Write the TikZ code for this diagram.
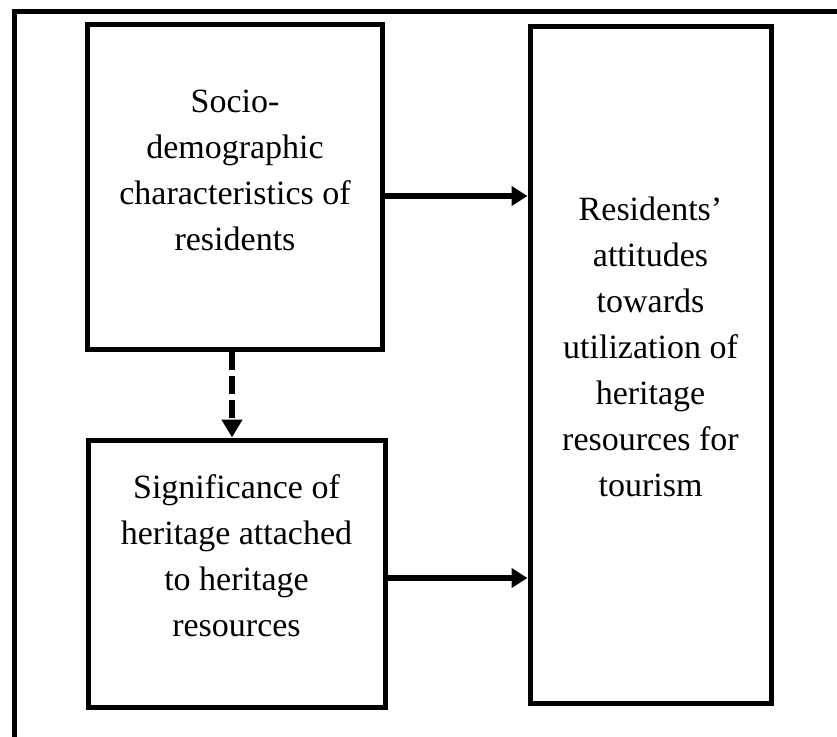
\documentclass[tikz,border=0pt]{standalone}
\usepackage{fontspec}
\setmainfont{Liberation Serif}
\usetikzlibrary{arrows.meta}
\begin{document}
\begin{tikzpicture}[x=1pt,y=-1pt,
  box/.style={draw=black,line width=5pt,fill=none,inner sep=0pt,rectangle},
  txt/.style={align=center,inner sep=0pt,font=\fontsize{34}{46}\selectfont},
  arr/.style={line width=6pt,-{Triangle[length=16pt,width=19pt]}},
  darr/.style={line width=6.5pt,dash pattern=on 18pt off 6pt,-{Triangle[length=18pt,width=20pt]}}]
\useasboundingbox (0,0) rectangle (837,736);
\fill[white] (0,0) rectangle (837,736);
% outer frame (only top and left visible)
\coordinate (fb) at (14.5,740);
\coordinate (fc) at (14.5,11.5);
\coordinate (fr) at (840,11.5);
\draw[line width=5pt] (fb) -- (fc) -- (fr);
% boxes
\node[box,minimum width=295pt,minimum height=325pt] (b1) at (235,187) {};
\node[box,minimum width=297pt,minimum height=267pt] (b2) at (236.5,573.5) {};
\node[box,minimum width=241pt,minimum height=677pt] (b3) at (650.5,364.5) {};
% texts
\node[txt] (t1) at (235,171.8) {\strut Socio-\\\strut demographic\\\strut characteristics of\\\strut residents};
\node[txt] (t2) at (236.5,557.8) {\strut Significance of\\\strut heritage attached\\\strut to heritage\\\strut resources};
\node[txt] (t3) at (650.5,348.8) {\strut Residents’\\\strut attitudes\\\strut towards\\\strut utilization of\\\strut heritage\\\strut resources for\\\strut tourism};
% connectors
\coordinate (r1) at (0,196);
\coordinate (r2) at (0,578);
\coordinate (c1) at (232,0);
\draw[arr] (r1 -| b1.east) -- (r1 -| b3.west);
\draw[arr] (r2 -| b2.east) -- (r2 -| b3.west);
\draw[darr] (c1 |- b1.south) -- (c1 |- b2.north);
\end{tikzpicture}
\end{document}
